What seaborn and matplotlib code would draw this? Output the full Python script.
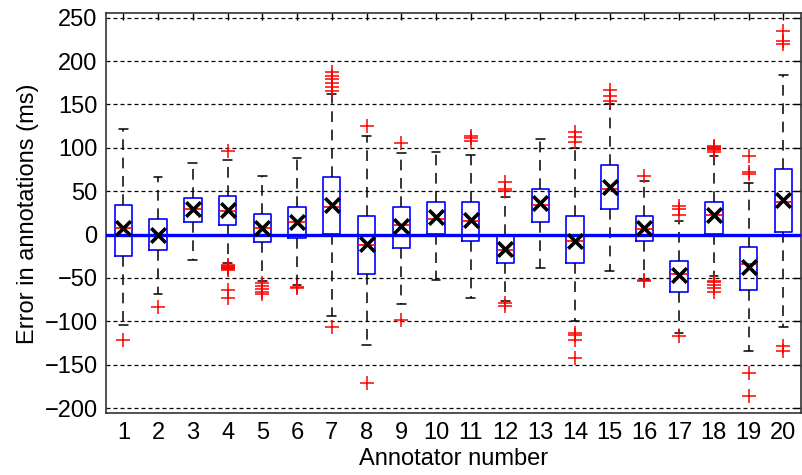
import numpy as np
import pandas as pd
import matplotlib
matplotlib.use('Agg')
import matplotlib.pyplot as plt
import seaborn as sns

# box statistics per annotator
annotators = list(range(1, 21))
q1 = [-25, -18, 14, 11, -9, -4, 0.5, -45, -15, 1, -8, -33, 14, -33, 30, -8, -66, 0.5, -64, 3]
med = [7, -1, 29, 27, 7, 15, 32, -12, 11, 18, 16, -18, 34, -8, 53, 6, -46, 22, -34, 38]
q3 = [34, 18, 42, 44, 24, 32, 66, 21, 32, 38, 38, -1, 52, 21, 80, 21, -30, 38, -14, 75]
whislo = [-104, -69, -29, -33, -53, -58, -94, -127, -80, -52, -73, -76, -38, -100, -42, -52, -113, -48, -134, -106]
whishi = [122, 66, 82, 86, 68, 88, 162, 114, 94, 95, 92, 43, 110, 100, 150, 62, 16, 91, 59, 184]
means = [8, 0, 29, 28, 8, 15, 34, -11, 10, 20, 17, -17, 36, -7, 55, 7, -47, 22, -37, 40]
fliers = [
    [-122],
    [-84],
    [],
    [96, -35, -36, -37, -38, -39, -40, -41, -64, -73],
    [-56, -59, -63, -66, -68],
    [-60, -62],
    [166, 170, 175, 179, 183, 187, -106],
    [125, -171],
    [105, -99],
    [],
    [108, 111, 114],
    [50, 53, 60, -79, -82],
    [],
    [107, 113, 118, -113, -116, -122, -142],
    [154, 160, 167],
    [68, -52, -54],
    [23, 29, 33, -117],
    [95, 97, 99, 100, 101, 102, -53, -55, -58, -62, -66],
    [70, 72, 90, -160, -186],
    [220, 223, 235, -128, -134],
]

sns.set_theme(style='white')
plt.rcParams['font.family'] = ['Liberation Sans', 'DejaVu Sans']

fig = plt.figure(figsize=(8.02, 4.75), dpi=100)
ax = fig.add_axes([106 / 802, 1 - 413.3 / 475, (800.7 - 106) / 802, 400 / 475])

stats = []
for i in range(len(annotators)):
    stats.append({'q1': q1[i], 'med': med[i], 'q3': q3[i],
                  'whislo': whislo[i], 'whishi': whishi[i],
                  'mean': means[i], 'fliers': []})

ax.bxp(stats, positions=annotators, widths=0.5, showfliers=False, showmeans=False,
       boxprops=dict(color='blue', linewidth=1.2),
       medianprops=dict(color='red', linewidth=1.2),
       whiskerprops=dict(color='black', linewidth=1.1, linestyle=(0, (7, 5))),
       capprops=dict(color='black', linewidth=1.1),
       capwidths=0.25, zorder=2)

# outliers
flier_df = pd.DataFrame([(a, v) for a, fl in zip(annotators, fliers) for v in fl],
                        columns=['Annotator', 'Error'])
sns.scatterplot(data=flier_df, x='Annotator', y='Error', marker='+', color='red',
                s=90, linewidth=1.1, ax=ax, zorder=3)

ax.axhline(0, color='blue', linewidth=2.4, zorder=4)

# means
mean_df = pd.DataFrame({'Annotator': annotators, 'Mean': means})
sns.scatterplot(data=mean_df, x='Annotator', y='Mean', marker='x', color='black',
                s=110, linewidth=2.6, ax=ax, zorder=5)

ax.set_xlim(0.5, 20.5)
ax.set_ylim(-206, 255)
ax.set_yticks(np.arange(-200, 251, 50))
ax.set_xticks(annotators)
ax.set_xticklabels([str(a) for a in annotators])
ax.yaxis.grid(True, color='black', linestyle=(0, (3.2, 2.4)), linewidth=0.9)
ax.set_axisbelow(True)
ax.tick_params(direction='in', length=5, width=1, top=True, right=True,
               labelsize=17, colors='black', pad=6)
for s in ax.spines.values():
    s.set_color('#333333')
    s.set_linewidth(1.2)
ax.set_xlabel('Annotator number', fontsize=17, labelpad=3, color='black')
ax.set_ylabel('Error in annotations (ms)', fontsize=17, labelpad=4, color='black')

fig.savefig('out.png', dpi=100)
